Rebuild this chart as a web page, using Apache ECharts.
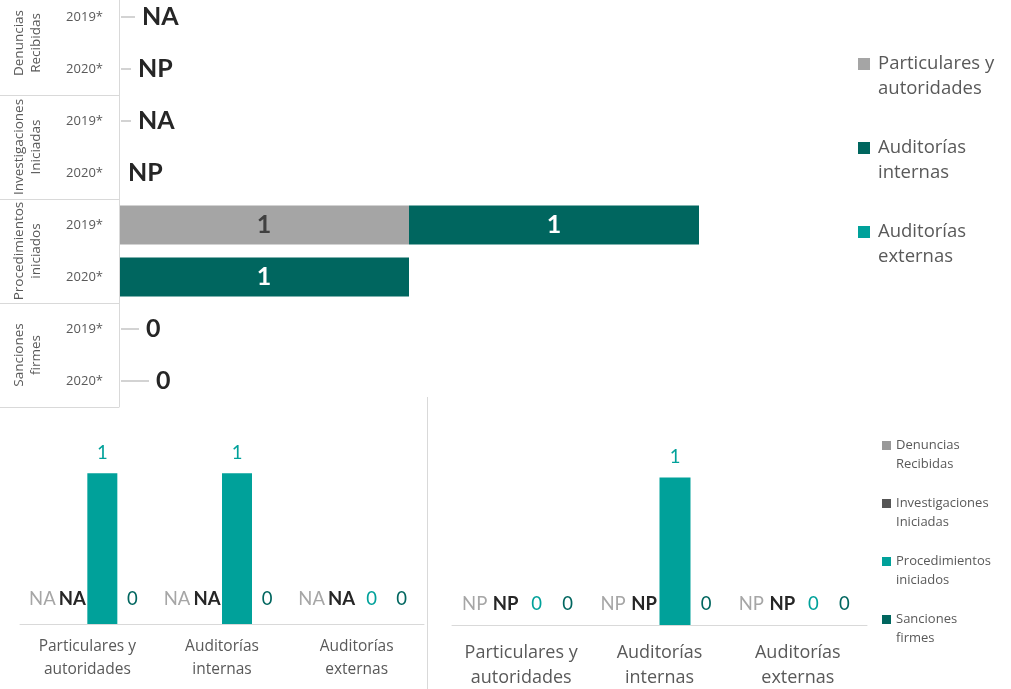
<!DOCTYPE html>
<html><head><meta charset="utf-8">
<script src="https://cdn.jsdelivr.net/npm/echarts@6/dist/echarts.min.js"></script>
<style>html,body{margin:0;padding:0;background:#fff}#c{width:1011px;height:689px}</style>
</head><body><div id="c"></div>
<script>
// ---- data ----
const yearLabels = ['2019*','2020*','2019*','2020*','2019*','2020*','2019*','2020*'];
const groupLabels = ['Denuncias\nRecibidas','Investigaciones\nIniciadas','Procedimientos\niniciados','Sanciones\nfirmes'];
const topPart = [null,null,null,null,1,null,null,null];
const topInt  = [null,null,null,null,1,1,null,null];
const topExt  = [null,null,null,null,null,null,null,null];
const topNotes = ['NA','NP','NA','NP','','','0','0'];

const bottomCats = ['Particulares y\nautoridades','Auditorías\ninternas','Auditorías\nexternas'];
const den2019  = ['NA','NA','NA'];
const inv2019  = ['NA','NA','NA'];
const proc2019 = [1,1,0];
const sanc2019 = [0,0,0];
const den2020  = ['NP','NP','NP'];
const inv2020  = ['NP','NP','NP'];
const proc2020 = [0,1,0];
const sanc2020 = [0,0,0];

// ---- styling ----
const FONT = 'Lato, "Noto Sans", sans-serif';
const TFONT = '"Open Sans", Lato, sans-serif';
const leaderLen = [14,10,10,0,0,0,18,28];
const topNames = ['Particulares y autoridades','Auditorías internas','Auditorías externas'];
const topColors = ['#A5A5A5','#00665F','#00A19A'];
const botNames = ['Denuncias Recibidas','Investigaciones Iniciadas','Procedimientos iniciados','Sanciones firmes'];
const botColors = ['#999999','#555555','#00A19A','#00665F'];
const botLabelColors = ['#A6A6A6','#262626','#00A19A','#00665F'];
const botLabelWeights = ['normal','bold','normal','normal'];

const rich = { t: { fontSize: 25, fontWeight: 'bold', color: '#262626', fontFamily: FONT, padding: [0,0,0,7] } };
leaderLen.forEach(l => { if (l) rich['ln' + l] = { width: l, height: 1, backgroundColor: '#a6a6a6' }; });

const series = [];
[topPart, topInt, topExt].forEach((arr, i) => {
  series.push({
    type: 'bar', name: topNames[i], stack: 'top', xAxisIndex: 0, yAxisIndex: 0,
    data: arr, barWidth: 39, itemStyle: { color: topColors[i] },
    label: { show: true, position: 'inside', fontSize: 25, fontWeight: 'bold', fontFamily: FONT,
      color: i === 0 ? '#404040' : '#ffffff', formatter: p => (p.value ? String(p.value) : '') }
  });
});
series.push({
  type: 'bar', name: 'notes', xAxisIndex: 0, yAxisIndex: 0, barGap: '-100%', barWidth: 39, silent: true,
  data: topNotes.map(n => (n === '' ? null : 0)), itemStyle: { color: 'rgba(0,0,0,0)' },
  label: { show: true, position: 'right', distance: 2,
    formatter: p => { const n = topNotes[p.dataIndex]; const l = leaderLen[p.dataIndex];
      return (l ? '{ln' + l + '|}' : '') + '{t|' + n + '}'; }, rich: rich }
});

function bottomSeries(arrs, gi) {
  arrs.forEach((arr, i) => {
    series.push({
      type: 'bar', name: botNames[i], xAxisIndex: gi, yAxisIndex: gi + 1,
      data: arr.map(v => {
        const num = typeof v === 'number' ? v : 0;
        return { value: num, label: { distance: num > 0 ? 11 : (gi === 1 ? 15 : 11) } };
      }),
      barWidth: gi === 1 ? 30 : 31, barGap: '0%', itemStyle: { color: botColors[i] },
      label: { show: true, position: 'top', fontFamily: FONT,
        fontSize: 18.5, color: botLabelColors[i], fontWeight: botLabelWeights[i],
        formatter: p => String(arr[p.dataIndex]) }
    });
  });
}
bottomSeries([den2019, inv2019, proc2019, sanc2019], 1);
bottomSeries([den2020, inv2020, proc2020, sanc2020], 2);

const legendText = {
  'Particulares y autoridades': '\nParticulares y\nautoridades',
  'Auditorías internas': '\nAuditorías\ninternas',
  'Auditorías externas': '\nAuditorías\nexternas',
  'Denuncias Recibidas': '\nDenuncias\nRecibidas',
  'Investigaciones Iniciadas': '\nInvestigaciones\nIniciadas',
  'Procedimientos iniciados': '\nProcedimientos\niniciados',
  'Sanciones firmes': '\nSanciones\nfirmes'
};

const bottomXAxis = (gi, fs, lh, margin) => ({
  type: 'category', gridIndex: gi, data: bottomCats,
  axisLine: { lineStyle: { color: '#d9d9d9', width: 1 } }, axisTick: { show: false },
  axisLabel: { color: '#595959', fontSize: fs, lineHeight: lh, margin: margin, fontFamily: TFONT, interval: 0 }
});

const option = {
  animation: false,
  textStyle: { fontFamily: FONT },
  grid: [
    { left: 119, top: -9, width: 725, height: 416, outerBoundsMode: 'none', containLabel: false },
    { left: 20, top: 443, width: 404, height: 181, outerBoundsMode: 'none', containLabel: false },
    { left: 452, top: 448, width: 415, height: 177, outerBoundsMode: 'none', containLabel: false },
    { left: -2, top: -9, width: 121, height: 416, outerBoundsMode: 'none', containLabel: false }
  ],
  xAxis: [
    { type: 'value', gridIndex: 0, min: 0, max: 2.5, show: false },
    bottomXAxis(1, 15.5, 23, 11),
    bottomXAxis(2, 18, 25, 15),
    { type: 'value', gridIndex: 3, min: 0, max: 1, show: false }
  ],
  yAxis: [
    { type: 'category', gridIndex: 0, data: yearLabels, inverse: true, z: 5,
      axisLine: { show: true, lineStyle: { color: '#d9d9d9' } }, axisTick: { show: false },
      splitLine: { show: false },
      axisLabel: { color: '#595959', fontSize: 13, margin: 16, fontFamily: TFONT } },
    { type: 'category', gridIndex: 3, data: groupLabels, inverse: true, position: 'left',
      axisLine: { show: false }, axisTick: { show: false },
      splitLine: { show: true, interval: 0, lineStyle: { color: '#d9d9d9', width: 1 } },
      axisLabel: { inside: true, rotate: 90, margin: 13, color: '#595959', fontSize: 13.5, lineHeight: 17, fontFamily: TFONT, interval: 0 } },
    { type: 'value', gridIndex: 1, min: 0, max: 1.2, show: false },
    { type: 'value', gridIndex: 2, min: 0, max: 1.2, show: false }
  ],
  legend: [
    { data: topNames, orient: 'vertical', left: 858, top: 26.5, padding: 0, itemWidth: 12, itemHeight: 12, itemGap: 9,
      selectedMode: false, icon: 'rect', formatter: n => legendText[n],
      textStyle: { fontSize: 18.5, lineHeight: 25, color: '#595959', fontFamily: TFONT, padding: [0,0,0,3] } },
    { data: botNames, orient: 'vertical', left: 882, top: 417, padding: 0, itemWidth: 9, itemHeight: 9, itemGap: 1,
      selectedMode: false, icon: 'rect', formatter: n => legendText[n],
      textStyle: { fontSize: 13, lineHeight: 19, color: '#595959', fontFamily: TFONT } }
  ],
  graphic: [
    { type: 'line', shape: { x1: 427.5, y1: 397, x2: 427.5, y2: 689 }, style: { stroke: '#d9d9d9', lineWidth: 1 } }
  ],
  series: series
};
const chart = echarts.init(document.getElementById('c'), null, { renderer: 'canvas' });
chart.setOption(option);
</script></body></html>
